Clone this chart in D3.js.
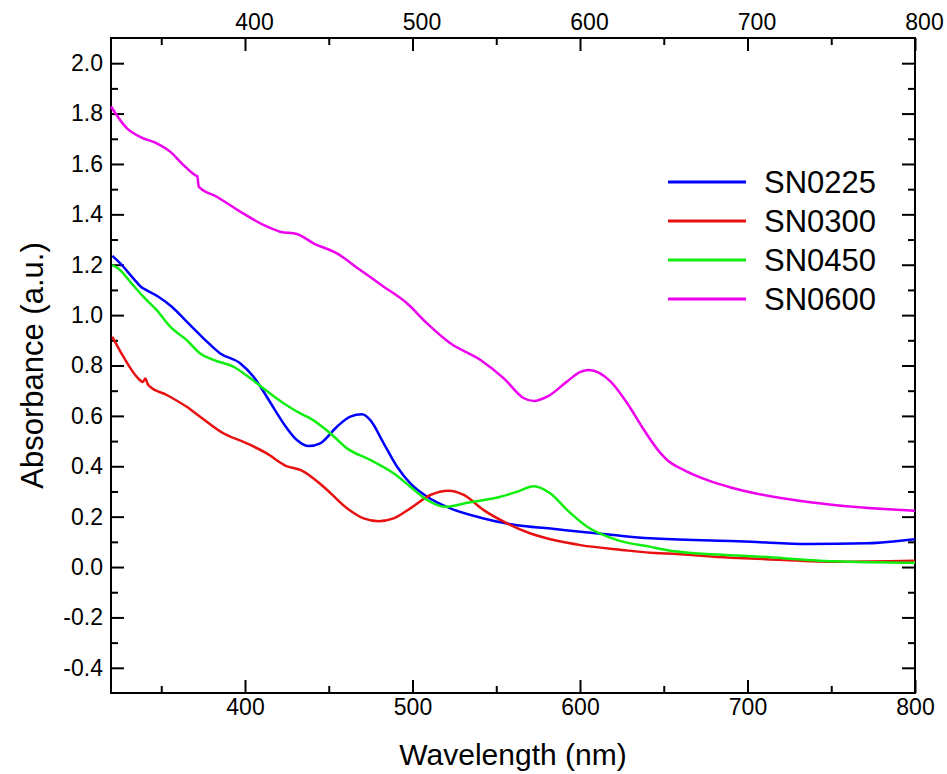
<!DOCTYPE html>
<html>
<head>
<meta charset="utf-8">
<script src="https://cdn.jsdelivr.net/npm/d3@7"></script>
<style>
  body { margin: 0; background: #fff; }
  text { font-family: "Liberation Sans", Arial, sans-serif; fill: #000; }
  .axis path { display: none; }
  .axis line { stroke: #000; stroke-width: 2; }
</style>
</head>
<body>
<div id="chart"></div>
<script>
// absorbance spectra, [wavelength nm, absorbance a.u.]
var sn0225 = [[320.8,1.235],[325.4,1.206],[333.3,1.146],[338,1.112],[340.3,1.102],[348.3,1.073],[356.3,1.033],
  [365.2,0.974],[375.2,0.908],[385.2,0.848],[397.1,0.809],[405.1,0.755],[413,0.676],[418,0.622],[423,0.570],
  [431,0.504],[437.9,0.480],[444.9,0.491],[454.9,0.557],[462.9,0.597],[469.9,0.606],[474.8,0.583],[482.8,0.491],
  [490.8,0.398],[498.7,0.332],[508.7,0.279],[522.6,0.233],[542.5,0.193],[562.5,0.166],[582.4,0.153],[600.3,0.140],
  [620,0.127],[642.2,0.114],[690,0.103],[702,0.100],[735.8,0.091],[771.7,0.094],[800,0.110]];
var sn0300 = [[320.8,0.914],[327.4,0.835],[335.4,0.755],[339,0.735],[340.5,0.748],[342,0.725],[343.3,0.716],
  [353.3,0.683],[365.2,0.636],[373.2,0.597],[387.1,0.531],[401.1,0.491],[413,0.451],[424,0.403],[434,0.383],
  [446.9,0.319],[460.9,0.233],[470.8,0.193],[479.8,0.182],[488.7,0.193],[498.7,0.233],[510.7,0.286],[521.6,0.303],
  [530.6,0.286],[542.5,0.226],[554.5,0.180],[570.5,0.133],[586.4,0.104],[600.3,0.087],[625,0.068],[642,0.057],
  [652.2,0.054],[690,0.037],[702,0.034],[751.7,0.021],[800,0.025]];
var sn0450 = [[320.8,1.199],[325.4,1.179],[331.4,1.133],[339.3,1.073],[347.3,1.020],[355.3,0.954],[365.2,0.901],
  [373.2,0.848],[381.2,0.822],[393.1,0.795],[403.1,0.750],[411,0.709],[423,0.650],[433,0.610],[439,0.590],
  [450.9,0.531],[460.9,0.471],[474.8,0.425],[488.7,0.372],[498.7,0.319],[508.7,0.266],[519.6,0.239],[532.6,0.255],
  [552.5,0.279],[562.5,0.299],[572.5,0.321],[582.4,0.292],[592.4,0.226],[604.3,0.160],[622.3,0.107],[642.2,0.080],
  [652.2,0.067],[690,0.047],[702,0.043],[751.7,0.023],[800,0.017]];
var sn0600 = [[320,1.828],[329.4,1.742],[338.3,1.705],[347.3,1.682],[355.3,1.649],[363.2,1.596],[370.2,1.556],
  [371.5,1.552],[372.4,1.510],[383.2,1.470],[397.1,1.411],[411,1.358],[421,1.331],[431,1.322],[440.9,1.285],
  [454.9,1.245],[468.8,1.179],[482.8,1.113],[496.7,1.047],[508.7,0.967],[522.6,0.888],[540.6,0.822],[554.5,0.749],
  [566.5,0.670],[572.5,0.659],[580.4,0.676],[592,0.735],[600.3,0.775],[605.3,0.782],[618.3,0.736],[628.2,0.650],
  [638.2,0.544],[648.2,0.451],[652.2,0.424],[662.1,0.385],[676.1,0.345],[690,0.316],[705,0.292],[721.9,0.272],
  [751.7,0.246],[781.7,0.230],[800,0.223]];

var seriesNames = ["SN0225", "SN0300", "SN0450", "SN0600"];
var seriesData = [sn0225, sn0300, sn0450, sn0600];
var seriesColors = ["#0000ff", "#e81010", "#10ee10", "#ee00ee"];

var xTicks = [400, 500, 600, 700, 800];
var xMinorTicks = [350, 450, 550, 650, 750];
var yTicks = [-0.4, -0.2, 0.0, 0.2, 0.4, 0.6, 0.8, 1.0, 1.2, 1.4, 1.6, 1.8, 2.0];
var yMinorTicks = [-0.3, -0.1, 0.1, 0.3, 0.5, 0.7, 0.9, 1.1, 1.3, 1.5, 1.7, 1.9];

var W = 947, H = 774;
var margin = {top: 38, right: 32, bottom: 81, left: 111};
var width = W - margin.left - margin.right,
    height = H - margin.top - margin.bottom;

var x = d3.scaleLinear().domain([320, 800]).range([0, width]);
var y = d3.scaleLinear().domain([-0.5, 2.1]).range([height, 0]);

var svg = d3.select("#chart").append("svg")
    .attr("width", W)
    .attr("height", H);

var main = svg.append("g")
    .attr("transform", "translate(" + margin.left + "," + margin.top + ")");

var fmt = function (d) { return d.toFixed(1); };

// bottom axis, ticks point inward
main.append("g").attr("class", "axis")
    .attr("transform", "translate(0," + height + ")")
    .call(d3.axisBottom(x).tickValues(xTicks).tickSize(-13).tickPadding(6))
    .selectAll("text").style("font-size", "23px");
main.append("g").attr("class", "axis")
    .attr("transform", "translate(0," + height + ")")
    .call(d3.axisBottom(x).tickValues(xMinorTicks).tickSize(-7).tickFormat(""));

// top axis, labels sit a little to the right in the original
main.append("g").attr("class", "axis")
    .call(d3.axisTop(x).tickValues(xTicks).tickSize(-13).tickPadding(8))
    .selectAll("text").style("font-size", "23px").attr("dx", 9);
main.append("g").attr("class", "axis")
    .call(d3.axisTop(x).tickValues(xMinorTicks).tickSize(-7).tickFormat(""));

// left axis
main.append("g").attr("class", "axis")
    .call(d3.axisLeft(y).tickValues(yTicks).tickFormat(fmt).tickSize(-13).tickPadding(8))
    .selectAll("text").style("font-size", "23px");
main.append("g").attr("class", "axis")
    .call(d3.axisLeft(y).tickValues(yMinorTicks).tickSize(-7).tickFormat(""));

// right axis, no labels
main.append("g").attr("class", "axis")
    .attr("transform", "translate(" + width + ",0)")
    .call(d3.axisRight(y).tickValues(yTicks).tickSize(-13).tickFormat(""));
main.append("g").attr("class", "axis")
    .attr("transform", "translate(" + width + ",0)")
    .call(d3.axisRight(y).tickValues(yMinorTicks).tickSize(-7).tickFormat(""));

// plot frame
main.append("rect")
    .attr("width", width)
    .attr("height", height)
    .attr("fill", "none")
    .attr("stroke", "#000")
    .attr("stroke-width", 2);

var line = d3.line()
    .x(function (d) { return x(d[0]); })
    .y(function (d) { return y(d[1]); })
    .curve(d3.curveMonotoneX);

main.selectAll(".spectrum")
    .data(seriesData)
    .enter().append("path")
    .attr("class", "spectrum")
    .attr("d", line)
    .attr("fill", "none")
    .attr("stroke", function (d, i) { return seriesColors[i]; })
    .attr("stroke-width", 2.5)
    .attr("stroke-linejoin", "round");

// legend
var legend = main.append("g")
    .attr("transform", "translate(" + (668 - margin.left) + "," + (182 - margin.top) + ")");
var item = legend.selectAll("g")
    .data(seriesNames)
    .enter().append("g")
    .attr("transform", function (d, i) { return "translate(0," + (i * 39) + ")"; });
item.append("line")
    .attr("x1", 0).attr("x2", 78)
    .attr("stroke", function (d, i) { return seriesColors[i]; })
    .attr("stroke-width", 3);
item.append("text")
    .attr("x", 96)
    .attr("dy", "0.36em")
    .style("font-size", "31px")
    .text(function (d) { return d; });

// axis titles
svg.append("text")
    .attr("x", margin.left + width / 2)
    .attr("y", 765)
    .attr("text-anchor", "middle")
    .style("font-size", "30px")
    .text("Wavelength (nm)");

svg.append("text")
    .attr("transform", "translate(43," + (margin.top + height / 2) + ") rotate(-90)")
    .attr("text-anchor", "middle")
    .style("font-size", "31px")
    .text("Absorbance (a.u.)");
</script>
</body>
</html>
